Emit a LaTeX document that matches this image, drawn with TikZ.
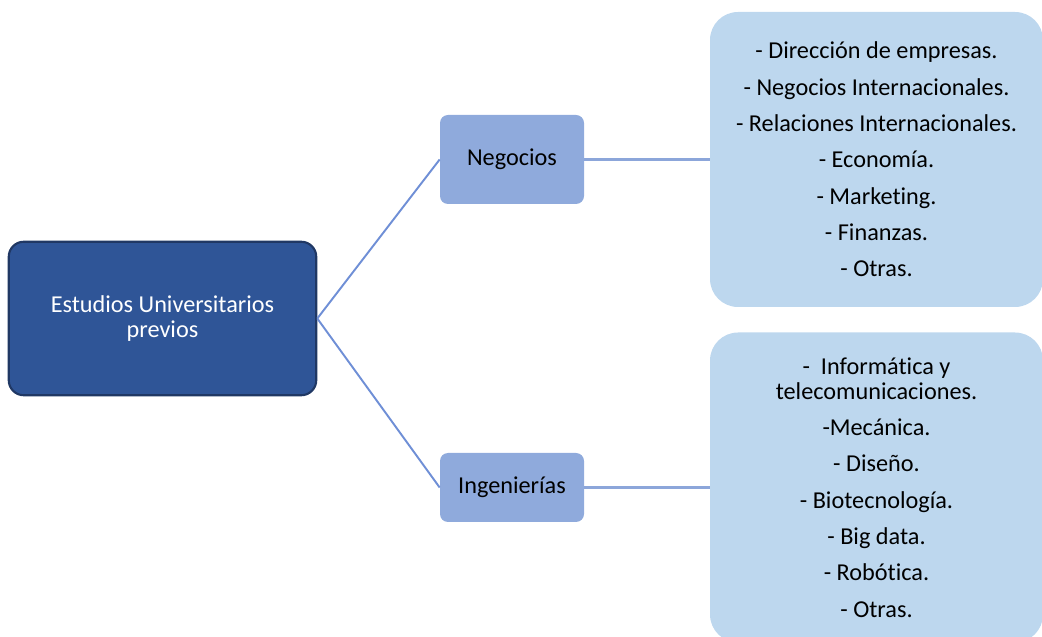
\documentclass[tikz,border=0pt]{standalone}
\usepackage{fontspec}
\setmainfont{Carlito}[Ligatures=NoCommon]
\usepackage{tikz}
\usetikzlibrary{positioning}
\usepackage{xcolor}

\definecolor{rootblue}{HTML}{2F5597}
\definecolor{rootedge}{HTML}{203864}
\definecolor{midblue}{HTML}{8FAADC}
\definecolor{paleblue}{HTML}{BDD7EE}
\definecolor{linkblue}{HTML}{6F8FD6}
\definecolor{linkpale}{HTML}{8CA6DA}

\begin{document}
\begin{tikzpicture}[
        on grid,
        font=\fontsize{13.8}{14.2}\selectfont,
        root/.style={rectangle, rounded corners=0.3cm, draw=rootedge, line width=1.2pt,
            fill=rootblue, text=white, align=center,
            minimum width=6.15cm, minimum height=3.07cm},
        branch/.style={rectangle, rounded corners=0.16cm, fill=midblue, align=center,
            minimum width=2.88cm},
        list/.style={rectangle, rounded corners=0.56cm, fill=paleblue, align=center,
            minimum width=6.66cm},
        link/.style={draw=linkblue, line width=1.1pt},
        hlink/.style={draw=linkpale, line width=1.4pt}
    ]

        \useasboundingbox (0,0) rectangle (20.84,-12.74);
        \clip (0,0) rectangle (20.84,-12.74);

        % Root
        \node[root] (R) at (3.25,-6.37) {Estudios Universitarios\\previos};

        % Branches
        \node[branch, minimum height=1.78cm, right=6.99cm of R, yshift=3.18cm] (N) {Negocios};
        \node[branch, minimum height=1.38cm, right=6.99cm of R, yshift=-3.38cm] (I) {Ingenierías};

        % Lists
        \node[list, minimum height=5.9cm, right=7.29cm of N] (LN) {%
            - Dirección de empresas.\\[6.5pt]
            - Negocios Internacionales.\\[6.5pt]
            - Relaciones Internacionales.\\[6.5pt]
            - Economía.\\[6.5pt]
            - Marketing.\\[6.5pt]
            - Finanzas.\\[6.5pt]
            - Otras.};
        \node[list, minimum height=6.2cm, right=7.29cm of I] (LI) {%
            -\ \ Informática y\\
            telecomunicaciones.\\[6.5pt]
            -Mecánica.\\[6.5pt]
            - Diseño.\\[6.5pt]
            - Biotecnología.\\[6.5pt]
            - Big data.\\[6.5pt]
            - Robótica.\\[6.5pt]
            - Otras.};

        % Connectors
        \path[link]
            (R.east) edge (N.west)
            (R.east) edge (I.west);
        \draw[hlink] (N.east) -- (LN.west);
        \draw[hlink] (I.east) -- (LI.west);

    \end{tikzpicture}
\end{document}
